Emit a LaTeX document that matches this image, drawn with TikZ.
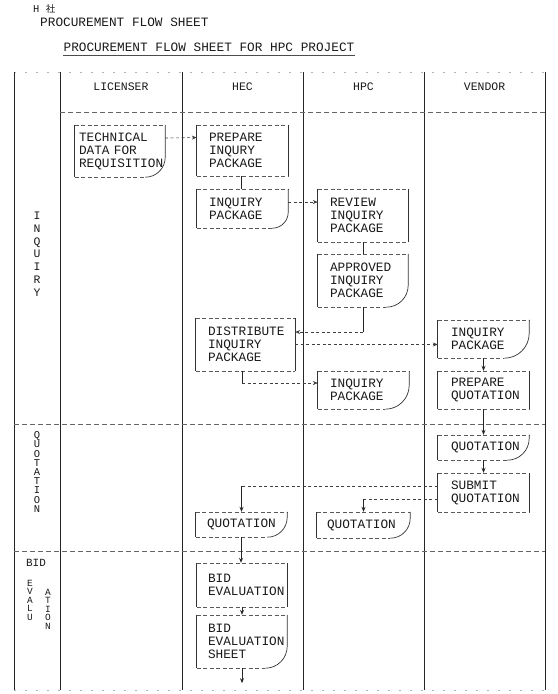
\documentclass[tikz,border=0pt]{standalone}
\usepackage{fontspec}
\setmonofont{Liberation Mono}
\newfontfamily\cjkfont{Noto Sans CJK JP}
\usetikzlibrary{arrows.meta}

\tikzset{
 lbl/.style={font=\ttfamily\fontsize{12.8}{13}\selectfont, inner sep=0pt, text=black!90},
 tbox/.style={lbl, align=left, inner ysep=0pt, inner xsep=12bp},
 hedge/.style={draw=black!65, line width=0.6bp, dash pattern=on 4bp off 2.5bp},
 vedge/.style={draw=black!80, line width=0.7bp},
 gridline/.style={draw=black!85, line width=0.9bp},
 hgrid/.style={draw=black!60, line width=0.6bp, dash pattern=on 5bp off 3bp},
 faint/.style={draw=black!30, line width=0.6bp, dash pattern=on 2bp off 9bp},
 dconn/.style={draw=black!75, line width=0.6bp, dash pattern=on 3bp off 2.5bp},
 sconn/.style={draw=black!85, line width=0.8bp},
 arr/.style={-{Stealth[length=5bp,width=4bp]}},
}

\newcommand{\procbox}[1]{%
 \draw[hedge] (#1.north west) -- (#1.north east);
 \draw[hedge] (#1.south west) -- (#1.south east);
 \draw[vedge] (#1.north west) -- (#1.south west);
 \draw[vedge] (#1.north east) -- (#1.south east);}

\newcommand{\docbox}[2]{%
 \draw[hedge] (#1.north west) -- (#1.north east);
 \draw[vedge] (#1.north west) -- (#1.south west);
 \draw[vedge] (#1.north east) -- ([yshift=#2 pt]#1.south east) to[out=-90,in=0] ([xshift=-#2 pt]#1.south east);
 \draw[hedge] (#1.south west) -- ([xshift=-#2 pt]#1.south east);}

\begin{document}
\begin{tikzpicture}[x=1bp,y=-1bp]
\useasboundingbox (0,0) rectangle (558,694);

% ---- page header
\node[lbl, anchor=west, font=\ttfamily\fontsize{10.5}{11}\selectfont] (co) at (33,9) {H~{\cjkfont\fontsize{9.5}{10}\selectfont 社}};
\node[lbl, anchor=west] (sub) at (40,22) {PROCUREMENT FLOW SHEET};
\node[lbl, anchor=base] (title) at (209,52) {PROCUREMENT FLOW SHEET FOR HPC PROJECT};
\draw[black!70, line width=0.6bp] ([yshift=-3.5pt]title.base west) -- ([yshift=-3.5pt]title.base east);

% ---- grid
\draw[faint] (14,72) -- (545,72);
\draw[faint] (14,690) -- (545,690);
\foreach \gx in {14,60,182,303,424,545} \draw[gridline] (\gx,72) -- (\gx,690);
\draw[hgrid] (60,112) -- (545,112);
\draw[hgrid] (14,424) -- (545,424);
\draw[hgrid] (14,551) -- (545,551);

% ---- column heads
\node[lbl, font=\ttfamily\fontsize{11.5}{13}\selectfont] (hlic) at (121,87) {LICENSER};
\node[lbl, font=\ttfamily\fontsize{11.5}{13}\selectfont] (hhec) at (242.5,87) {HEC};
\node[lbl, font=\ttfamily\fontsize{11.5}{13}\selectfont] (hhpc) at (363.5,87) {HPC};
\node[lbl, font=\ttfamily\fontsize{11.5}{13}\selectfont] (hven) at (484.5,87) {VENDOR};

% ---- phase labels
\node[lbl, align=center, font=\ttfamily\fontsize{11.5}{12.8}\selectfont] (sinq) at (37,254) {I\\N\\Q\\U\\I\\R\\Y};
\node[lbl, align=center, font=\ttfamily\fontsize{10.5}{9.25}\selectfont] (squo) at (37,472) {Q\\U\\O\\T\\A\\T\\I\\O\\N};
\node[lbl, font=\ttfamily\fontsize{11}{12}\selectfont] (sbid) at (36,563) {BID};
\node[lbl, align=center, font=\ttfamily\fontsize{9.5}{8.5}\selectfont] (seva) at (30,600) {E\\V\\A\\L\\U};
\node[lbl, align=center, font=\ttfamily\fontsize{9.5}{8.5}\selectfont] (sevb) at (48,609) {A\\T\\I\\O\\N};

% ---- boxes
\node[tbox, text width=82bp, inner xsep=4bp, minimum height=52bp] (tech) at (120,151) {TECHNICAL\\DATA FOR\\REQUISITION};
\node[tbox, text width=67bp, minimum height=51bp] (prep) at (242.5,150.5) {PREPARE\\INQURY\\PACKAGE};
\node[tbox, text width=67bp, minimum height=39bp] (ipk1) at (242.5,208.5) {INQUIRY\\PACKAGE};
\node[tbox, text width=66bp, minimum height=53bp] (review) at (363,215.5) {REVIEW\\INQUIRY\\PACKAGE};
\node[tbox, text width=66bp, minimum height=53bp] (approved) at (363,280.5) {APPROVED\\INQUIRY\\PACKAGE};
\node[tbox, text width=75bp, minimum height=53bp] (distr) at (245.5,344.5) {DISTRIBUTE\\INQUIRY\\PACKAGE};
\node[tbox, text width=67bp, minimum height=38bp] (ipk2) at (363.5,390) {INQUIRY\\PACKAGE};
\node[tbox, text width=65bp, inner xsep=13bp, minimum height=38bp] (ipk3) at (483.5,339) {INQUIRY\\PACKAGE};
\node[tbox, text width=65bp, inner xsep=13bp, minimum height=38bp] (prepq) at (483.5,390) {PREPARE\\QUOTATION};
\node[tbox, text width=65bp, inner xsep=13bp, minimum height=25bp] (quot1) at (483.5,447.5) {QUOTATION};
\node[tbox, text width=65bp, inner xsep=13bp, minimum height=39bp] (submit) at (483.5,492.5) {SUBMIT\\QUOTATION};
\node[tbox, text width=69bp, inner xsep=11bp, minimum height=25bp] (quot2) at (241.5,524.5) {QUOTATION};
\node[tbox, text width=73bp, inner xsep=10bp, minimum height=26bp] (quot3) at (363.5,525) {QUOTATION};
\node[tbox, text width=68bp, inner xsep=11bp, minimum height=44bp] (bideval) at (242,585) {BID\\EVALUATION};
\node[tbox, text width=68bp, inner xsep=11bp, minimum height=53bp] (bes) at (242,641.5) {BID\\EVALUATION\\SHEET};

\docbox{tech}{20}
\procbox{prep}
\docbox{ipk1}{16}
\procbox{review}
\docbox{approved}{22}
\procbox{distr}
\docbox{ipk2}{24}
\docbox{ipk3}{25}
\procbox{prepq}
\docbox{quot1}{22}
\procbox{submit}
\docbox{quot2}{20}
\docbox{quot3}{20}
\procbox{bideval}
\docbox{bes}{22}

% ---- connectors
\draw[dconn, arr] ([yshift=13pt]tech.east) -- ([yshift=13pt]prep.west);
\draw[sconn] ([xshift=-1.5pt]prep.south) -- ([xshift=-1.5pt]ipk1.north);
\coordinate (a3) at ([yshift=6.5pt]ipk1.east);
\draw[dconn, arr] (a3) -- (a3 -| review.west);
\draw[sconn] (review.south) -- (approved.north);
\coordinate (d4) at ([yshift=12.5pt]distr.east);
\draw[sconn] (approved.south) -- (approved.south |- d4);
\draw[dconn, arr] (approved.south |- d4) -- (d4);
\draw[dconn, arr] (distr.east) -- (distr.east -| ipk3.west);
\coordinate (d6a) at ([xshift=-3.5pt]distr.south);
\coordinate (d6) at ([yshift=7pt]ipk2.west);
\draw[sconn] (d6a) -- (d6a |- d6);
\draw[dconn, arr] (d6a |- d6) -- (d6);
\draw[sconn, arr] (ipk3.south) -- (prepq.north);
\draw[sconn, arr] (prepq.south) -- (quot1.north);
\draw[sconn, arr] (quot1.south) -- (submit.north);
\coordinate (s1) at ([yshift=6.5pt]submit.west);
\coordinate (s2) at ([yshift=-6.5pt]submit.west);
\draw[dconn] (s1) -- (s1 -| quot2.north);
\draw[sconn, arr] (s1 -| quot2.north) -- (quot2.north);
\draw[dconn] (s2) -- (s2 -| quot3.north);
\draw[sconn, arr] (s2 -| quot3.north) -- (quot3.north);
\draw[sconn, arr] ([xshift=-0.5pt]quot2.south) -- ([xshift=-0.5pt]quot2.south |- bideval.north);
\draw[sconn, arr] (bideval.south) -- (bes.north);
\coordinate (bend) at ([yshift=-15pt]bes.south);
\draw[sconn, arr] (bes.south) -- (bend);
\end{tikzpicture}
\end{document}
